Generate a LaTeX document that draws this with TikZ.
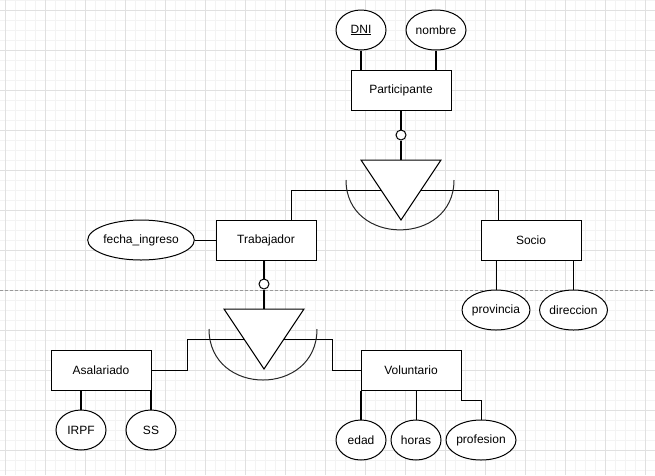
\documentclass[tikz,border=0pt]{standalone}
\usepackage{fontspec}
\setmainfont{Liberation Sans}
\usetikzlibrary{shapes.geometric}
\definecolor{gridmaj}{HTML}{E0E0E0}
\definecolor{gridmin}{HTML}{F3F3F3}
\begin{document}
\begin{tikzpicture}[x=1pt,y=-1pt,
  every node/.style={font=\fontsize{12}{14}\selectfont, text=black},
  ent/.style={draw=black, line width=1pt, fill=white, minimum width=100pt, minimum height=40pt, inner sep=0pt},
  attr/.style={draw=black, line width=1pt, fill=white, ellipse, minimum height=40pt, inner sep=0pt},
  conn/.style={draw=black, line width=1pt},
  bold/.style={draw=black, line width=1.8pt},
  isacirc/.style={draw=black, line width=1pt, fill=white, circle, minimum size=10pt, inner sep=0pt},
  isatri/.style={draw=black, line width=1pt, fill=white, line join=miter},
  isaarc/.style={draw=black!85, line width=1pt}
]
\useasboundingbox (0,0) rectangle (655,475);
\fill[white] (0,0) rectangle (655,475);
% grid
\foreach \x in {5,15,...,655} \draw[gridmin, line width=0.8pt] (\x,0) -- (\x,475);
\foreach \y in {0,10,...,475} \draw[gridmin, line width=0.8pt] (0,\y) -- (655,\y);
\foreach \x in {5,45,...,655} \draw[gridmaj, line width=0.8pt] (\x,0) -- (\x,475);
\foreach \y in {10,50,...,475} \draw[gridmaj, line width=0.8pt] (0,\y) -- (655,\y);
\draw[gray!80, line width=0.8pt, dash pattern=on 3pt off 2pt] (0,290.5) -- (655,290.5);

% entities
\node[ent] (part) at (401,90) {Participante};
\node[ent] (trab) at (266,240) {Trabajador};
\node[ent] (socio) at (531,240) {Socio};
\node[ent] (asal) at (101,370) {Asalariado};
\node[ent] (volun) at (411,370) {Voluntario};

% attributes
\node[attr, minimum width=50pt] (dni) at (361,30) {\underline{DNI}};
\node[attr, minimum width=60pt] (nombre) at (436,30) {nombre};
\node[attr, minimum width=90pt] (fecha) at (141,240) {fecha\_ingreso};
\node[attr, minimum width=60pt] (prov) at (496,310) {provincia};
\node[attr, minimum width=65pt] (dir) at (573.5,310) {direccion};
\node[attr, minimum width=50pt] (irpf) at (81,430) {IRPF};
\node[attr, minimum width=50pt] (ss) at (151,430) {SS};
\node[attr, minimum width=50pt] (edad) at (361,440) {edad};
\node[attr, minimum width=50pt] (horas) at (416,440) {horas};
\node[attr, minimum width=70pt] (prof) at (481,440) {profesion};

% ISA 1
\node[isacirc] (c1) at (401,135) {};
\coordinate (t1a) at (361,160);
\coordinate (t1b) at (441,160);
\coordinate (t1p) at (401,220);
\coordinate (t1c) at (401,190);
\coordinate (t1t) at (401,160);
% ISA 2
\node[isacirc] (c2) at (264,284) {};
\coordinate (t2a) at (224,309);
\coordinate (t2b) at (304,309);
\coordinate (t2p) at (264,369);
\coordinate (t2c) at (264,339);
\coordinate (t2t) at (264,309);

% connectors (under the triangles)
\draw[conn] (t1c) -| ([xshift=25pt]trab.north);
\draw[conn] (t1c) -| ([xshift=-33pt]socio.north);
\draw[conn] (t2c) -- ++(-77,0) |- (asal.east);
\draw[conn] (t2c) -- ++(68,0) |- (volun.west);

% arcs
\draw[isaarc] (346,180) .. controls (346,246.5) and (454,246.5) .. (454,180);
\draw[isaarc] (209,329) .. controls (209,397) and (317,397) .. (317,329);

% triangles
\draw[isatri] (t1a) -- (t1b) -- (t1p) -- cycle;
\draw[isatri] (t2a) -- (t2b) -- (t2p) -- cycle;

% isa lines
\draw[bold] (part.south) -- (c1.north);
\draw[bold] (c1.south) -- (t1t);
\draw[bold] (c2 |- trab.south) -- (c2.north);
\draw[bold] (c2.south) -- (t2t);

% attribute lines
\draw[bold] (dni.south) -- (dni.south |- part.north);
\draw[bold] (nombre.south) -- (nombre.south |- part.north);
\draw[conn] (fecha.east) -- (trab.west);
\draw[conn] (prov.north) -- (prov.north |- socio.south);
\draw[conn] (dir.north) -- (dir.north |- socio.south);
\draw[bold] (irpf.north) -- (irpf.north |- asal.south);
\draw[bold] (ss.north) -- (ss.north |- asal.south);
\draw[bold] (edad.north) -- (edad.north |- volun.south);
\draw[conn] (horas.north) -- (horas.north |- volun.south);
\draw[conn] (volun.south east) -- ++(0,10) -| (prof.north);
\end{tikzpicture}
\end{document}
